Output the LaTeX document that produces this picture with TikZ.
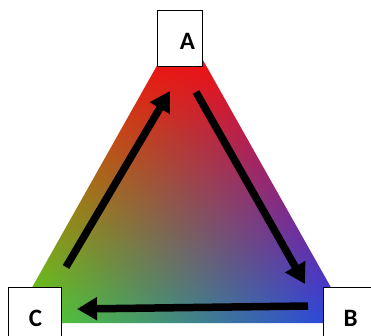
\documentclass[tikz,border=0pt]{standalone}
\usepackage{fontspec}
\setmainfont{Carlito}
\usetikzlibrary{arrows.meta}
\pgfdeclarefunctionalshading{rgbtri}{\pgfpoint{0bp}{0bp}}{\pgfpoint{100bp}{100bp}}{}{
25 sub 50 div abs exch 25 sub 1 index 25 mul sub 50 div
1 index 1 exch sub 0.0001 add div
exch 1.171 mul dup 1 gt {pop 1} if
1 index -0.17 mul 0.33 add dup 0.92 exch sub 2 index mul add
2 index -0.60 mul 0.84 add dup 0.08 exch sub 3 index mul add
3 index 0.80 mul 0.12 add dup 0.08 exch sub 4 index mul add
5 3 roll pop pop
}
\begin{document}
\begin{tikzpicture}[x=1pt,y=-1pt,
  box/.style={draw=black, line width=1pt, fill=white, inner sep=0pt, anchor=north west},
  lbl/.style={font=\bfseries\fontsize{25}{25}\selectfont, inner sep=0pt},
  arr/.style={line width=7.5pt, -{Triangle[length=20pt,width=22pt]}}]
\useasboundingbox (0,0) rectangle (371,335);
\clip (0,0) rectangle (371,335);
\shade[shading=rgbtri] (12,323) -- (351,323) -- (181.5,22) -- cycle;
\coordinate (a1) at (196,92);
\coordinate (b1) at (305,284);
\coordinate (b2) at (308,306);
\coordinate (c2) at (77,309);
\coordinate (c3) at (66,267);
\coordinate (a3) at (170,91);
\draw[arr] (a1) -- (b1);
\draw[arr] (b2) -- (c2);
\draw[arr] (c3) -- (a3);
\node[box, minimum width=45pt, minimum height=56pt] (A) at (157,10) {};
\node[box, minimum width=60pt, minimum height=60pt] (B) at (323,287) {};
\node[box, minimum width=53pt, minimum height=60pt] (C) at (8,287) {};
\node[lbl] (Atext) at (187.5,41) {A};
\node[lbl] (Btext) at (350.5,318) {B};
\node[lbl] (Ctext) at (35.5,318) {C};
\end{tikzpicture}
\end{document}
